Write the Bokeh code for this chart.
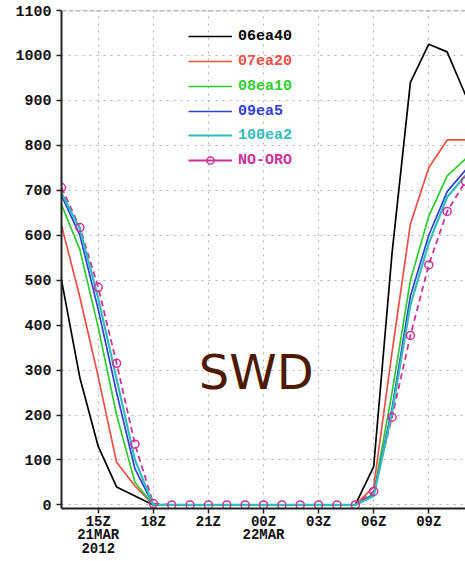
from bokeh.plotting import figure
from bokeh.models import FixedTicker, Legend, LegendItem, Label, Span
from bokeh.embed import file_html
from bokeh.resources import INLINE

# hours since 21 MAR 2012 00Z (13Z 21MAR ... 11Z 22MAR)
hours = list(range(13, 36))

ea40 = [500, 283, 130, 40, 20, 0, 0, 0, 0, 0, 0, 0, 0, 0, 0, 0, 0, 85, 560, 940, 1025, 1008, 912]
ea20 = [622, 462, 285, 95, 42, 0, 0, 0, 0, 0, 0, 0, 0, 0, 0, 0, 0, 40, 340, 625, 750, 812, 812]
ea10 = [668, 568, 395, 200, 50, 0, 0, 0, 0, 0, 0, 0, 0, 0, 0, 0, 0, 25, 250, 500, 642, 732, 770]
ea5 = [688, 600, 435, 250, 80, 0, 0, 0, 0, 0, 0, 0, 0, 0, 0, 0, 0, 22, 215, 465, 600, 697, 745]
ea2 = [694, 614, 460, 280, 100, 0, 0, 0, 0, 0, 0, 0, 0, 0, 0, 0, 0, 20, 205, 445, 582, 685, 733]
noro = [706, 617, 484, 315, 135, 3, 0, 0, 0, 0, 0, 0, 0, 0, 0, 0, 0, 30, 195, 377, 534, 653, 720]

names = ["06ea40", "07ea20", "08ea10", "09ea5", "100ea2", "NO-ORO"]
colors = ["#000000", "#ec5046", "#2ecc2e", "#3340d6", "#33bcbc", "#cc3399"]

xticks = [15, 18, 21, 24, 27, 30, 33]
xlabels = ["15Z\n21MAR\n2012", "18Z", "21Z", "00Z\n22MAR", "03Z", "06Z", "09Z"]
yticks = list(range(0, 1101, 100))

FONT = "Liberation Mono"

p = figure(width=465, height=561, x_range=(13, 35), y_range=(-8, 1100),
           output_backend="svg", toolbar_location=None,
           min_border_left=61, min_border_right=0, min_border_top=10, min_border_bottom=53)
p.outline_line_color = None

for ax in (p.xaxis[0], p.yaxis[0]):
    ax.axis_line_width = 2
    ax.axis_line_color = "#222222"
    ax.major_tick_line_color = "#222222"
    ax.major_tick_line_width = 1.5
    ax.major_tick_out = 5
    ax.major_tick_in = 0
    ax.minor_tick_line_color = None
    ax.major_label_text_font = FONT
    ax.major_label_text_font_style = "bold"
    ax.major_label_text_font_size = "15px"
    ax.major_label_text_color = "#111111"

p.yaxis.ticker = FixedTicker(ticks=yticks)
p.xaxis.ticker = FixedTicker(ticks=xticks)
p.xaxis.major_label_overrides = {t: l for t, l in zip(xticks, xlabels)}
p.xaxis.major_label_text_font_size = "14px"
p.xaxis.major_label_text_line_height = 0.85
p.yaxis.major_label_standoff = 5
p.xaxis.major_label_standoff = 0

for g in (p.xgrid[0], p.ygrid[0]):
    g.grid_line_color = "#b0b0b0"
    g.grid_line_dash = "2 5"
    g.grid_line_width = 1

p.add_layout(Span(location=1100, dimension="width", line_color="#777777",
                  line_dash="5 2", line_width=1.5))

series = [ea40, ea20, ea10, ea5]
rends = []
for vals, c in zip(series, colors[:4]):
    rends.append([p.line(hours, vals, line_color=c, line_width=1.7)])

r_noro_line = p.line(hours, noro, line_color=colors[5], line_width=1.8, line_dash="6 4")
r_cyan = p.line(hours, ea2, line_color=colors[4], line_width=2.2)
r_noro_mark = p.scatter(hours, noro, marker="circle", size=8, fill_color=None,
                        line_color=colors[5], line_width=1.5)
r_noro_leg = p.line(hours, noro, line_color=colors[5], line_width=1.8, visible=False)
rends.append([r_cyan])
rends.append([r_noro_leg, r_noro_mark])

centers = [36, 61, 86, 111, 135, 160]
for name, c, rs, cy in zip(names, colors, rends, centers):
    leg = Legend(items=[LegendItem(label=name, renderers=rs)],
                 location=(127, 499 - cy), border_line_color=None,
                 background_fill_alpha=0, padding=0, margin=0, spacing=0,
                 glyph_width=44, glyph_height=18, label_height=18,
                 label_standoff=6, label_text_color=c, label_text_font=FONT,
                 label_text_font_style="bold", label_text_font_size="15px")
    p.add_layout(leg, "center")

p.add_layout(Label(x=23.6, y=295, text="SWD", text_font="DejaVu Sans",
                   text_font_size="48px", text_color="#4d1a00",
                   text_align="center", text_baseline="middle"))

open("out.html", "w").write(file_html(p, INLINE))
